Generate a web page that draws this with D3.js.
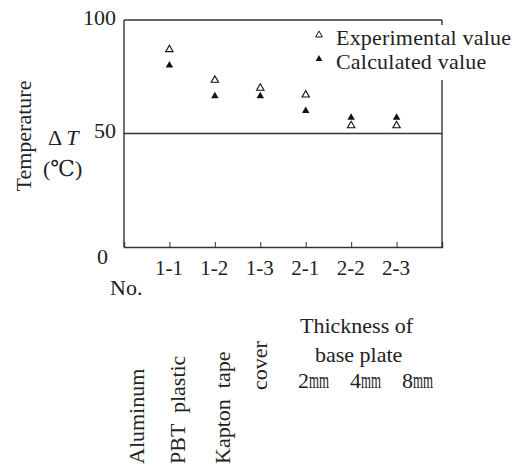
<!DOCTYPE html>
<html>
<head>
<meta charset="utf-8">
<script src="https://cdn.jsdelivr.net/npm/d3@7"></script>
<style>
  body { margin: 0; background: #fff; }
  svg { display: block; }
  text { font-family: 'Liberation Serif', 'DejaVu Serif', serif; fill: #222; }
</style>
</head>
<body>
<div id="chart"></div>
<script>
// Data
var categories = ['1-1', '1-2', '1-3', '2-1', '2-2', '2-3'];
var experimental = [87, 73.5, 70, 67, 53.5, 53.5];
var calculated = [80, 66.5, 66.5, 60, 57, 57];
var yTicks = [0, 50, 100];
var legendLabels = ['Experimental value', 'Calculated value'];
var materials = ['Aluminum', 'PBT  plastic', 'Kapton  tape'];
var thickness = ['2', '4', '8'];

var width = 517, height = 469;
var fontSize = 22;

var svg = d3.select('#chart')
  .append('svg')
  .attr('width', width)
  .attr('height', height);

// Scales
var x = d3.scaleLinear().domain([0, 7]).range([124, 442]);
var y = d3.scaleLinear().domain([0, 100]).range([247, 20]);

var stroke = '#333';

// Frame
var frame = svg.append('g')
  .attr('fill', 'none')
  .attr('stroke', stroke)
  .attr('stroke-width', 1.4);

frame.append('line')
  .attr('x1', x(0)).attr('x2', x(0))
  .attr('y1', y(100)).attr('y2', y(0));
frame.append('line')
  .attr('x1', x(0)).attr('x2', x(7))
  .attr('y1', y(100)).attr('y2', y(100));
// right edge is broken behind the legend
frame.append('line')
  .attr('x1', x(7)).attr('x2', x(7))
  .attr('y1', y(100)).attr('y2', y(100) + 5);
frame.append('line')
  .attr('x1', x(7)).attr('x2', x(7))
  .attr('y1', 80).attr('y2', y(0));
// 50 reference line
frame.append('line')
  .attr('x1', x(0)).attr('x2', x(7))
  .attr('y1', y(50)).attr('y2', y(50));

// X axis
var xAxis = svg.append('g')
  .attr('transform', 'translate(0,' + y(0) + ')')
  .call(d3.axisBottom(x)
    .tickValues(d3.range(1, categories.length + 1))
    .tickFormat((d) => categories[d - 1])
    .tickSize(-5));

xAxis.select('.domain')
  .attr('stroke', stroke)
  .attr('stroke-width', 1.4);
xAxis.selectAll('.tick line')
  .attr('stroke', stroke);
xAxis.selectAll('.tick text')
  .attr('y', 28)
  .attr('dy', 0)
  .attr('x', -1)
  .style('font-family', "'Liberation Serif', serif")
  .style('font-size', '21px')
  .attr('fill', '#222');

// Y axis labels
var yAxis = svg.append('g')
  .attr('transform', 'translate(' + x(0) + ',0)')
  .call(d3.axisLeft(y).tickValues(yTicks).tickSize(0).tickPadding(8));

yAxis.select('.domain').remove();
yAxis.selectAll('.tick text')
  .style('font-family', "'Liberation Serif', serif")
  .style('font-size', fontSize + 'px')
  .attr('fill', '#222')
  .attr('dy', (d) => d === 0 ? '0.75em' : '0.2em')
  .attr('x', (d) => d === 0 ? -16 : -8);

// Points
var triangle = d3.symbol().type(d3.symbolTriangle).size(24);

svg.append('g')
  .selectAll('path')
  .data(calculated)
  .enter()
  .append('path')
  .attr('d', triangle)
  .attr('transform', (d, i) => 'translate(' + x(i + 1) + ',' + y(d) + ')')
  .attr('fill', '#111');

svg.append('g')
  .selectAll('path')
  .data(experimental)
  .enter()
  .append('path')
  .attr('d', triangle)
  .attr('transform', (d, i) => 'translate(' + x(i + 1) + ',' + y(d) + ')')
  .attr('fill', '#fff')
  .attr('stroke', '#111')
  .attr('stroke-width', 1.1);

// Legend
var legend = svg.append('g')
  .selectAll('g')
  .data(legendLabels)
  .enter()
  .append('g')
  .attr('transform', (d, i) => 'translate(319,' + (35 + i * 24) + ')');

legend.append('path')
  .attr('d', d3.symbol().type(d3.symbolTriangle).size(20))
  .attr('fill', (d, i) => i === 0 ? '#fff' : '#111')
  .attr('stroke', '#111')
  .attr('stroke-width', (d, i) => i === 0 ? 1 : 0);

legend.append('text')
  .attr('x', 17)
  .attr('y', 10)
  .style('font-size', fontSize + 'px')
  .style('letter-spacing', '0.2px')
  .text((d) => d);

// Axis titles
svg.append('text')
  .attr('transform', 'translate(31,136) rotate(-90)')
  .attr('text-anchor', 'middle')
  .style('font-size', fontSize + 'px')
  .text('Temperature');

var dT = svg.append('text')
  .attr('x', 48)
  .attr('y', 145)
  .style('font-size', fontSize + 'px');
dT.append('tspan').text('\u0394');
dT.append('tspan').attr('dx', 4).style('font-style', 'italic').text('T');

svg.append('text')
  .attr('x', 43)
  .attr('y', 176)
  .style('font-size', fontSize + 'px')
  .text('(\u2103)');

svg.append('text')
  .attr('x', 110)
  .attr('y', 295)
  .style('font-size', fontSize + 'px')
  .text('No.');

// Material labels (vertical)
var matX = [144, 185, 230];
svg.append('g')
  .selectAll('text')
  .data(materials)
  .enter()
  .append('text')
  .attr('transform', (d, i) => 'translate(' + matX[i] + ',464) rotate(-90)')
  .style('font-size', fontSize + 'px')
  .style('white-space', 'pre')
  .text((d) => d);

svg.append('text')
  .attr('transform', 'translate(267,390) rotate(-90)')
  .style('font-size', fontSize + 'px')
  .text('cover');

// Thickness of base plate
svg.append('text')
  .attr('x', 300)
  .attr('y', 333)
  .style('font-size', fontSize + 'px')
  .text('Thickness of');

svg.append('text')
  .attr('x', 315)
  .attr('y', 362)
  .style('font-size', fontSize + 'px')
  .text('base plate');

var thick = svg.append('g')
  .selectAll('g')
  .data(thickness)
  .enter()
  .append('g')
  .attr('transform', (d, i) => 'translate(' + (298 + i * 52) + ',388)');

thick.append('text')
  .style('font-size', fontSize + 'px')
  .text((d) => d);

thick.append('text')
  .attr('transform', 'translate(11,0) scale(0.56,1)')
  .style('font-size', '23px')
  .text('mm');
</script>
</body>
</html>
